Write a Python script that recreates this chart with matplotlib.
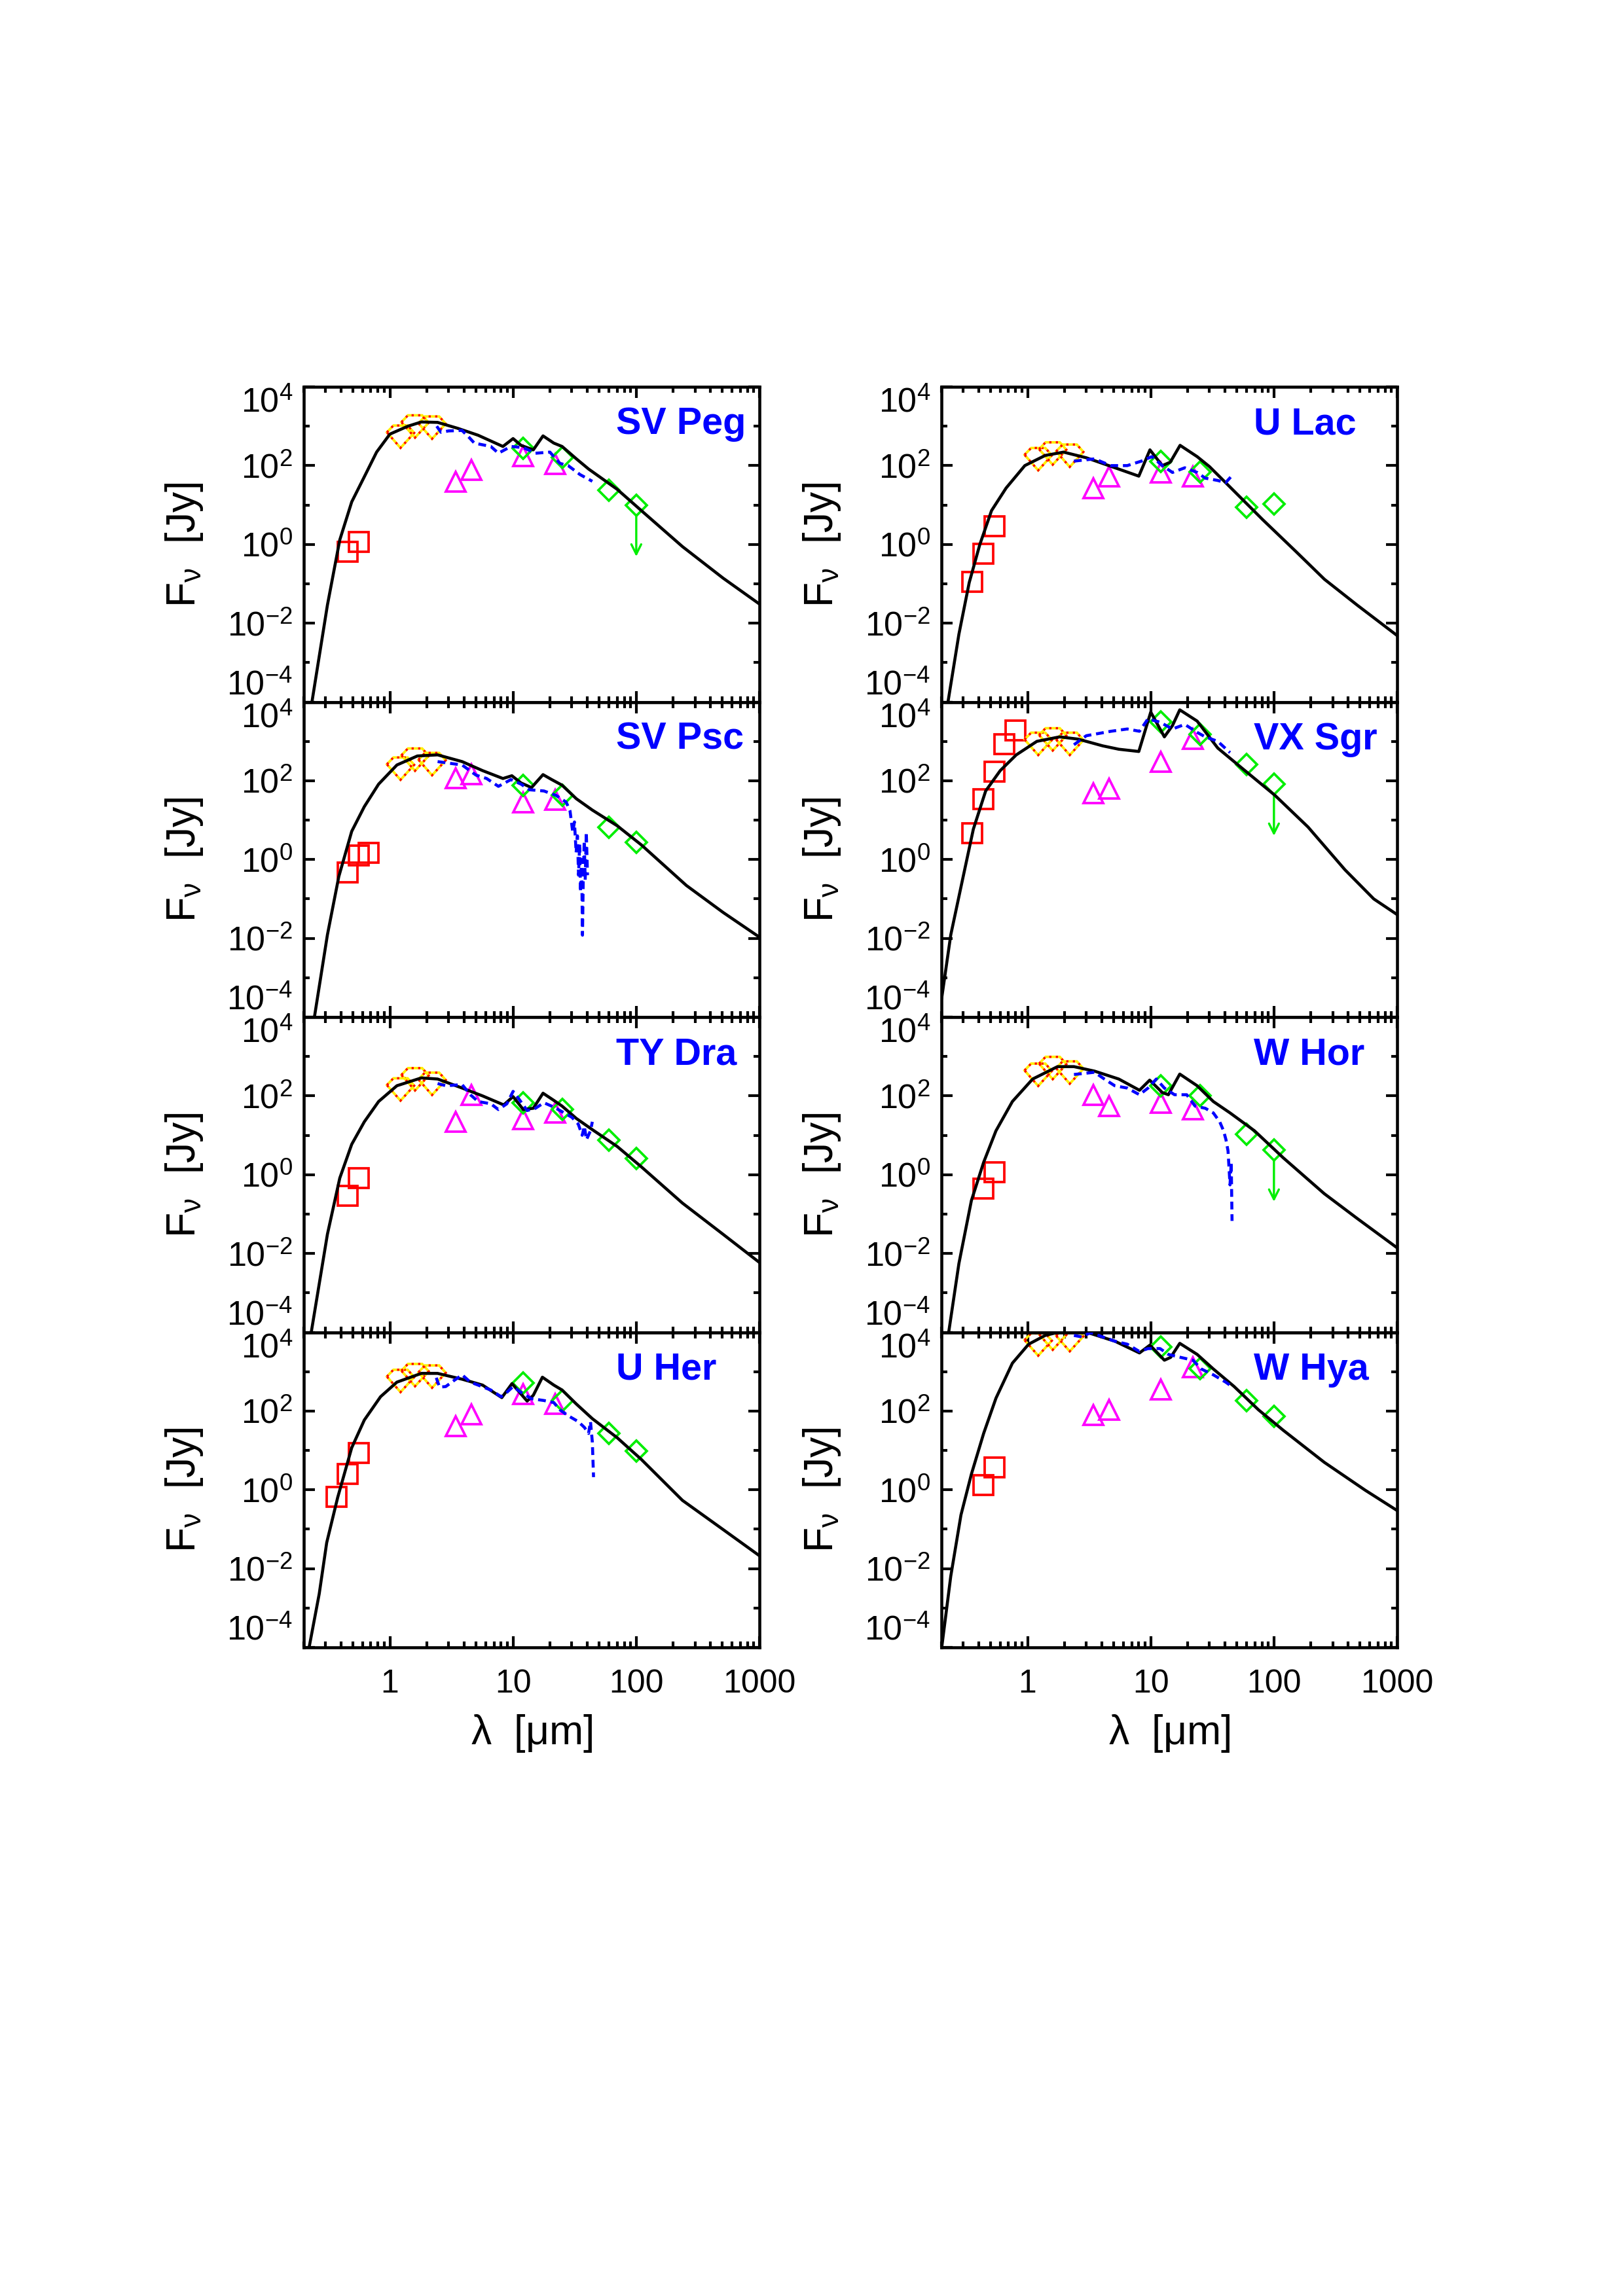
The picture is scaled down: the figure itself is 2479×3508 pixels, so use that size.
import numpy as np
import matplotlib
matplotlib.use("Agg")
import matplotlib.pyplot as plt
from matplotlib.patches import Polygon
from matplotlib.transforms import ScaledTranslation
from matplotlib.ticker import FixedLocator, NullFormatter

plt.rcParams["font.family"] = ["Liberation Sans", "DejaVu Sans"]
plt.rcParams["mathtext.fontset"] = "custom"
plt.rcParams["mathtext.rm"] = "Liberation Sans"
plt.rcParams["mathtext.it"] = "Liberation Sans:italic"
plt.rcParams["mathtext.default"] = "regular"

# filter wavelengths [micron]
NIR_WL = [1.22, 1.6, 2.2]
DIRBE_WL = [3.4, 4.6, 12.0, 22.0]
IRAS_WL = [12.0, 25.0, 60.0, 100.0]

# ---------------- SV Peg ----------------
SVPEG_MODEL_WL = [0.233, 0.311, 0.392, 0.49, 0.62, 0.78, 1.0, 1.4, 1.8, 2.44, 3.57, 5.2,
                  8.27, 10.0, 11.6, 14.6, 17.5, 21.4, 25, 32.6, 41, 70, 110, 237, 507, 1000]
SVPEG_MODEL_F = [1e-4, 0.0286, 1.3, 12, 52, 220, 630, 1000, 1280, 1250, 880, 590,
                 306, 485, 327, 251, 568, 373, 306, 149, 82, 25, 7.2, 0.88, 0.139, 0.0306]
SVPEG_SWS_WL = [2.4, 2.6, 3.0, 3.85, 4.3, 4.85, 6.6, 7.6, 9.6, 12.1, 15.2, 19.9, 24, 28, 35, 44]
SVPEG_SWS_F = [1000, 700, 760, 780, 560, 372, 306, 206, 306, 287, 206, 220, 114, 100, 59, 40]
SVPEG_OPT_WL = [0.453, 0.556]
SVPEG_OPT_F = [0.66, 1.14]
SVPEG_NIR_F = [550, 1000, 935]
SVPEG_DIRBE_F = [39, 77, 172, 110]
SVPEG_IRAS_F = [270, 158, 23.5, 10]
SVPEG_LIMIT = 0.49

# ---------------- U Lac ----------------
ULAC_MODEL_WL = [0.226, 0.277, 0.336, 0.41, 0.51, 0.67, 0.95, 1.39, 1.96, 3.0, 5.13, 8.0,
                 9.85, 12.4, 14.4, 17.3, 23.8, 30, 44, 81, 150, 257, 475, 1000]
ULAC_MODEL_F = [1e-4, 0.0052, 0.107, 1.0, 7.2, 27, 100, 181, 220, 158, 88, 54,
                251, 100, 122, 327, 169, 94, 28.6, 4.25, 0.67, 0.13, 0.0286, 0.00485]
ULAC_SWS_WL = [2.38, 3.5, 4.74, 6.45, 8.4, 10.2, 12.4, 15, 18.9, 23.8, 27.7, 34.9, 40.6, 45.5]
ULAC_SWS_F = [130, 148, 100, 100, 130, 169, 100, 67, 88, 67, 48, 42, 37, 55]
ULAC_OPT_WL = [0.357, 0.436, 0.54]
ULAC_OPT_F = [0.111, 0.59, 2.87]
ULAC_NIR_F = [148, 206, 181]
ULAC_DIRBE_F = [26.8, 52, 67, 52]
ULAC_IRAS_F = [130, 70, 8.8, 10.7]
ULAC_LIMIT = None

# ---------------- SV Psc ----------------
SVPSC_MODEL_WL = [0.244, 0.311, 0.385, 0.49, 0.62, 0.81, 1.14, 1.67, 2.44, 3.86, 5.65, 8.27,
                  9.78, 11.6, 14.1, 17.5, 20.6, 25, 32.6, 44, 70, 110, 255, 507, 1000]
SVPSC_MODEL_F = [1e-4, 0.0122, 0.37, 5.2, 22, 82, 251, 425, 454, 306, 181, 114,
                 134, 88, 67, 143, 107, 77, 35, 18, 7.2, 2.35, 0.22, 0.0454, 0.0107]
SVPSC_SWS_WL = [2.44, 3.86, 5.0, 6.1, 7.6, 9.6, 11.6, 13.6, 17.8, 22.3, 27, 29, 30.5, 31.5,
                32.5, 33.3, 34, 34.7, 35.3, 36, 36.6, 37.2, 37.8, 38.5, 39.3, 40.2]
SVPSC_SWS_F = [306, 251, 139, 114, 72, 107, 82, 59, 55, 42.5, 28.6, 17, 5, 9,
               1.5, 4, 0.4, 2.5, 0.15, 1.0, 0.012, 0.5, 3, 0.3, 5, 0.4]
SVPSC_OPT_WL = [0.456, 0.56, 0.668]
SVPSC_OPT_F = [0.47, 1.25, 1.48]
SVPSC_NIR_F = [206, 349, 269]
SVPSC_DIRBE_F = [116, 148, 28.6, 32.7]
SVPSC_IRAS_F = [77, 42.5, 6.6, 2.76]
SVPSC_LIMIT = None

# ---------------- VX Sgr ----------------
VXSGR_MODEL_WL = [0.201, 0.238, 0.295, 0.363, 0.457, 0.6, 0.81, 1.19, 1.82, 2.57, 4.07, 5.5,
                  8.0, 10.0, 12.9, 15, 17.2, 23.8, 35, 55.3, 102, 189, 377, 646, 1000]
VXSGR_MODEL_F = [3.06e-4, 0.0122, 0.286, 5.9, 55, 181, 454, 1000, 1300, 1140, 769, 631,
                 553, 5530, 1300, 2510, 6310, 3270, 675, 206, 42.5, 6.7, 0.55, 0.1, 0.04]
VXSGR_SWS_WL = [2.38, 3.0, 4.74, 6.45, 8.1, 9.5, 11.9, 15, 18.9, 23.8, 27.7, 35, 44]
VXSGR_SWS_F = [820, 1390, 1800, 2060, 1800, 3730, 3060, 2060, 2690, 1690, 1300, 1000, 518]
VXSGR_OPT_WL = [0.357, 0.436, 0.54, 0.646, 0.8]
VXSGR_OPT_F = [4.7, 34, 169, 843, 1930]
VXSGR_NIR_F = [877, 1140, 877]
VXSGR_DIRBE_F = [48.5, 63, 306, 1140]
VXSGR_IRAS_F = [3060, 1480, 258, 82]
VXSGR_LIMIT = 4.0

# ---------------- TY Dra ----------------
TYDRA_MODEL_WL = [0.23, 0.311, 0.392, 0.49, 0.62, 0.81, 1.14, 1.8, 2.44, 3.86, 5.65, 8.4,
                  10.0, 12.1, 14.6, 17.5, 21.4, 25, 32.6, 44, 70, 110, 237, 507, 1000]
TYDRA_MODEL_F = [1e-4, 0.0306, 0.82, 5.9, 22, 72, 181, 286, 268, 158, 100, 59,
                 96, 45, 48.5, 117, 77, 55, 26.8, 13.9, 5.2, 1.58, 0.19, 0.0306, 0.0059]
TYDRA_SWS_WL = [2.44, 2.85, 3.86, 4.5, 5.2, 6.6, 7.6, 8.9, 10, 11.2, 13, 15.2, 17.8, 21.4,
                26, 30, 33.8, 36.4, 37.9, 39.4, 42.5, 44]
TYDRA_SWS_F = [206, 181, 193, 107, 72, 63, 45, 63, 130, 82, 42.5, 48.5, 67, 52,
               37, 28.6, 19.3, 10, 17, 7.7, 13, 22]
TYDRA_OPT_WL = [0.456, 0.56]
TYDRA_OPT_F = [0.294, 0.82]
TYDRA_NIR_F = [148, 268, 206]
TYDRA_DIRBE_F = [22, 107, 25.8, 37]
TYDRA_IRAS_F = [67, 45, 7.5, 2.6]
TYDRA_LIMIT = None

# ---------------- W Hor ----------------
WHOR_MODEL_WL = [0.229, 0.277, 0.35, 0.44, 0.554, 0.753, 1.1, 1.75, 2.38, 3.5, 5.5, 8.1,
                 9.8, 12.4, 13.9, 17.2, 23.8, 32.2, 44, 69.5, 119, 256, 475, 1000]
WHOR_MODEL_F = [1e-4, 0.0055, 0.22, 2.06, 13, 72, 268, 553, 553, 425, 268, 139,
                251, 122, 107, 358, 181, 72, 37, 13, 2.68, 0.33, 0.077, 0.0139]
WHOR_SWS_WL = [2.38, 3.5, 4.2, 5.1, 6.45, 8.1, 9.5, 11.1, 12.9, 15.6, 19.6, 22.9, 27.7,
               32.2, 36.3, 39, 40.8, 42.4, 44, 45, 45.7]
WHOR_SWS_F = [349, 398, 268, 181, 158, 107, 158, 268, 158, 107, 107, 55, 48.5,
              37, 22, 13, 7.7, 4, 0.55, 2.06, 0.067]
WHOR_OPT_WL = [0.436, 0.54]
WHOR_OPT_F = [0.45, 1.17]
WHOR_NIR_F = [349, 518, 398]
WHOR_DIRBE_F = [107, 54, 67, 45]
WHOR_IRAS_F = [181, 100, 10.7, 4.25]
WHOR_LIMIT = 0.206

# ---------------- U Her ----------------
UHER_MODEL_WL = [0.221, 0.267, 0.307, 0.377, 0.49, 0.62, 0.84, 1.14, 1.8, 2.44, 3.86, 5.65,
                 8.1, 9.8, 13.0, 14.6, 17.3, 21.4, 25, 32.6, 44, 70, 110, 237, 507, 1000]
UHER_MODEL_F = [1e-4, 0.0023, 0.0456, 0.64, 11.7, 59, 231, 541, 903, 903, 642, 456,
                219, 497, 179, 251, 723, 456, 341, 151, 64, 21, 5.9, 0.54, 0.098, 0.0212]
UHER_SWS_WL = [2.38, 2.53, 2.84, 3.3, 3.86, 4.5, 5.2, 6.6, 8.0, 8.9, 10, 11.6, 14.1, 17.8,
               21.4, 24, 28, 33.8, 37.9, 41, 42.5, 44, 45]
UHER_SWS_F = [699, 405, 418, 590, 830, 541, 456, 341, 231, 298, 419, 298, 205, 185,
              164, 107, 76, 54, 38.5, 27, 54, 16.4, 2.1]
UHER_OPT_WL = [0.371, 0.456, 0.56]
UHER_OPT_F = [0.66, 2.5, 8.7]
UHER_NIR_F = [590, 830, 760]
UHER_DIRBE_F = [41, 83, 273, 151]
UHER_IRAS_F = [514, 185, 27, 9.8]
UHER_LIMIT = None

# ---------------- W Hya ----------------
WHYA_MODEL_WL = [0.201, 0.238, 0.288, 0.35, 0.44, 0.554, 0.753, 1.02, 1.39, 1.89, 2.57, 3.24,
                 5.13, 8.1, 9.85, 12.9, 14.5, 17.2, 23.8, 32.2, 47.5, 75, 119, 256, 550, 1000]
WHYA_MODEL_F = [1e-4, 0.0064, 0.23, 2.5, 27, 212, 1640, 4970, 8300, 10500, 10500, 9330,
                5900, 2980, 4720, 1950, 2300, 5230, 2740, 1170, 419, 107, 32.5, 5.0, 0.98, 0.298]
WHYA_SWS_WL = [2.38, 2.77, 3.24, 4.07, 5.13, 6.45, 8.1, 9.5, 11.9, 13.9, 17.5, 22, 25.7,
               32.2, 40.6, 45.5]
WHYA_SWS_F = [8300, 7600, 9840, 7600, 5900, 4970, 3240, 3850, 3850, 2740, 2300, 1950, 1170,
              830, 541, 419]
WHYA_OPT_WL = [0.436, 0.54]
WHYA_OPT_F = [1.34, 3.65]
WHYA_NIR_F = [4970, 6980, 6410]
WHYA_DIRBE_F = [79, 107, 353, 1315]
WHYA_IRAS_F = [4190, 1206, 185, 73.6]
WHYA_LIMIT = None

STARS = [
    ("SV Peg", SVPEG_MODEL_WL, SVPEG_MODEL_F, SVPEG_SWS_WL, SVPEG_SWS_F, SVPEG_OPT_WL,
     SVPEG_OPT_F, SVPEG_NIR_F, SVPEG_DIRBE_F, SVPEG_IRAS_F, SVPEG_LIMIT),
    ("U Lac", ULAC_MODEL_WL, ULAC_MODEL_F, ULAC_SWS_WL, ULAC_SWS_F, ULAC_OPT_WL,
     ULAC_OPT_F, ULAC_NIR_F, ULAC_DIRBE_F, ULAC_IRAS_F, ULAC_LIMIT),
    ("SV Psc", SVPSC_MODEL_WL, SVPSC_MODEL_F, SVPSC_SWS_WL, SVPSC_SWS_F, SVPSC_OPT_WL,
     SVPSC_OPT_F, SVPSC_NIR_F, SVPSC_DIRBE_F, SVPSC_IRAS_F, SVPSC_LIMIT),
    ("VX Sgr", VXSGR_MODEL_WL, VXSGR_MODEL_F, VXSGR_SWS_WL, VXSGR_SWS_F, VXSGR_OPT_WL,
     VXSGR_OPT_F, VXSGR_NIR_F, VXSGR_DIRBE_F, VXSGR_IRAS_F, VXSGR_LIMIT),
    ("TY Dra", TYDRA_MODEL_WL, TYDRA_MODEL_F, TYDRA_SWS_WL, TYDRA_SWS_F, TYDRA_OPT_WL,
     TYDRA_OPT_F, TYDRA_NIR_F, TYDRA_DIRBE_F, TYDRA_IRAS_F, TYDRA_LIMIT),
    ("W Hor", WHOR_MODEL_WL, WHOR_MODEL_F, WHOR_SWS_WL, WHOR_SWS_F, WHOR_OPT_WL,
     WHOR_OPT_F, WHOR_NIR_F, WHOR_DIRBE_F, WHOR_IRAS_F, WHOR_LIMIT),
    ("U Her", UHER_MODEL_WL, UHER_MODEL_F, UHER_SWS_WL, UHER_SWS_F, UHER_OPT_WL,
     UHER_OPT_F, UHER_NIR_F, UHER_DIRBE_F, UHER_IRAS_F, UHER_LIMIT),
    ("W Hya", WHYA_MODEL_WL, WHYA_MODEL_F, WHYA_SWS_WL, WHYA_SWS_F, WHYA_OPT_WL,
     WHYA_OPT_F, WHYA_NIR_F, WHYA_DIRBE_F, WHYA_IRAS_F, WHYA_LIMIT),
]

RED, MAG, GREEN, BLUE = "#ff0000", "#ff00ff", "#00ee00", "#0000ff"
# truncated-diamond outline used for the near-IR points, in points
GEM = np.array([(-5.0, 1.5), (-2.6, 4.0), (2.6, 4.0), (5.0, 1.3), (0.0, -4.2)]) / 72.0

fig = plt.figure(figsize=(2479 / 300, 3508 / 300), dpi=300)
X0 = [464 / 2479, 1438 / 2479]
W = 696 / 2479
TOP = 1 - 591 / 3508
H = (2517 - 591) / 4 / 3508

minor_x = [k * 10.0 ** e for e in range(-1, 3) for k in range(2, 10)]

for i, (name, mwl, mf, swl, sf, owl, of, nf, df, irf, lim) in enumerate(STARS):
    row, col = divmod(i, 2)
    ax = fig.add_axes([X0[col], TOP - (row + 1) * H, W, H])
    ax.set_xscale("log")
    ax.set_yscale("log")

    ax.plot(owl, of, "s", ms=7.4, mfc="none", mec=RED, mew=0.9, zorder=2)
    ax.plot(DIRBE_WL, df, "^", ms=7.4, mfc="none", mec=MAG, mew=0.9, zorder=2)
    ax.plot(IRAS_WL, irf, "D", ms=5.4, mfc="none", mec=GREEN, mew=0.9, zorder=2)
    for x, y in zip(NIR_WL, nf):
        tr = fig.dpi_scale_trans + ScaledTranslation(x, y, ax.transData)
        ax.add_patch(Polygon(GEM, closed=True, fill=False, ec="#ffee00", lw=0.9,
                             transform=tr, zorder=2))
        ax.add_patch(Polygon(GEM, closed=True, fill=False, ec=RED, lw=0.8,
                             ls=(0, (1.0, 2.0)), transform=tr, zorder=2))
    if lim is not None:
        ax.annotate("", xy=(IRAS_WL[3], lim), xytext=(IRAS_WL[3], irf[3]),
                    arrowprops=dict(arrowstyle="->", color=GREEN, lw=0.8,
                                    shrinkA=4, shrinkB=0, mutation_scale=9))

    ax.plot(mwl, mf, color="black", lw=1.1, zorder=3)
    ax.plot(swl, sf, color=BLUE, lw=1.1, ls=(0, (2.6, 1.6)), zorder=4)

    ax.set_xlim(0.2, 1000)
    ax.set_ylim(1e-4, 1e4)

    ax.set_xticks([1, 10, 100, 1000])
    ax.xaxis.set_minor_locator(FixedLocator(minor_x))
    ax.xaxis.set_minor_formatter(NullFormatter())
    if row == 3:
        ax.set_xticklabels(["1", "10", "100", "1000"], fontsize=12)
        ax.set_xlabel(r"λ  [$\mu$m]", fontsize=15, labelpad=5)
    else:
        ax.set_xticklabels([])

    ax.set_yticks([1e-4, 1e-2, 1, 1e2, 1e4])
    labs = ax.set_yticklabels([r"$10^{-4}$", r"$10^{-2}$", r"$10^{0}$", r"$10^{2}$",
                               r"$10^{4}$"], fontsize=12.5)
    labs[0].set_va("bottom")
    labs[-1].set_va("top")
    ax.yaxis.set_minor_locator(FixedLocator([1e-3, 1e-1, 10, 1e3]))
    ax.yaxis.set_minor_formatter(NullFormatter())
    ax.set_ylabel(r"F$_{\nu}$  [Jy]", fontsize=15, labelpad=8)

    ax.tick_params(which="both", direction="in", top=True, right=True, width=1.0)
    ax.tick_params(which="major", length=4)
    ax.tick_params(axis="y", which="major", pad=4)
    ax.tick_params(axis="x", which="major", pad=8)
    ax.tick_params(which="minor", length=2.2)
    for sp in ax.spines.values():
        sp.set_linewidth(1.1)

    ax.text(0.686, 0.85, name, transform=ax.transAxes, color=BLUE, fontsize=13.8,
            fontweight="bold", ha="left", va="baseline", zorder=5)

fig.savefig("out.png", dpi=300)
